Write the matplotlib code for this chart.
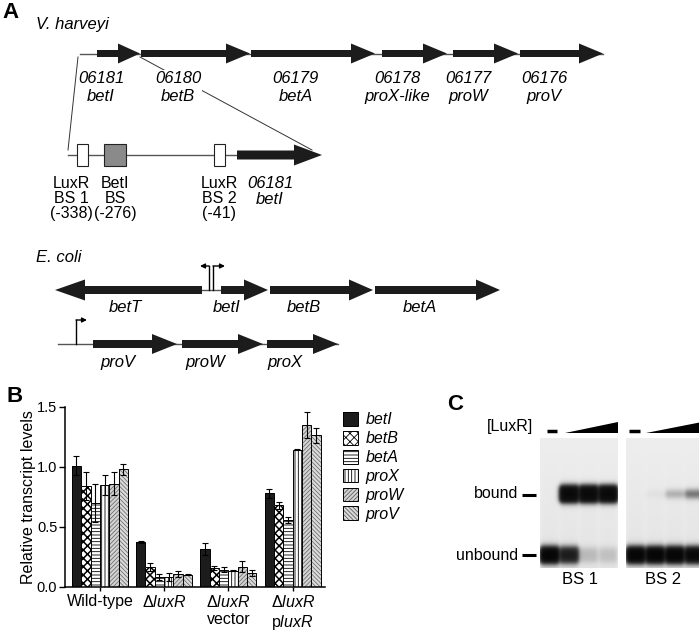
"""
Recreate the LuxR / bet-pro operon figure (panels A, B, C).
"""

import numpy as np
import matplotlib
matplotlib.use("Agg")
import matplotlib.pyplot as plt
from matplotlib.patches import Polygon, Rectangle
from matplotlib.legend_handler import HandlerTuple

plt.rcParams["font.family"] = ["Liberation Sans", "DejaVu Sans"]
plt.rcParams["mathtext.fontset"] = "custom"
plt.rcParams["mathtext.rm"] = "Liberation Sans"
plt.rcParams["mathtext.it"] = "Liberation Sans:italic"
plt.rcParams["hatch.linewidth"] = 0.6

# panel B data
categories = ["Wild-type", "Δ$\\mathit{luxR}$", "Δ$\\mathit{luxR}$\nvector",
              "Δ$\\mathit{luxR}$\np$\\mathit{luxR}$"]
genes = ["betI", "betB", "betA", "proX", "proW", "proV"]
betI = [1.01, 0.374, 0.316, 0.78]
betB = [0.84, 0.168, 0.16, 0.68]
betA = [0.70, 0.084, 0.145, 0.56]
proX = [0.85, 0.084, 0.137, 1.145]
proW = [0.86, 0.11, 0.168, 1.35]
proV = [0.98, 0.103, 0.12, 1.265]
betI_err = [0.08, 0.006, 0.047, 0.035]
betB_err = [0.115, 0.035, 0.016, 0.03]
betA_err = [0.16, 0.022, 0.02, 0.027]
proX_err = [0.08, 0.035, 0.003, 0.005]
proW_err = [0.095, 0.025, 0.047, 0.11]
proV_err = [0.045, 0.007, 0.025, 0.062]

# panel C band intensities per lane (no LuxR, then increasing LuxR)
bs1_bound = [0.0, 1.0, 1.0, 1.0]
bs1_unbound = [1.0, 0.6, 0.06, 0.05]
bs2_bound = [0.0, 0.012, 0.09, 0.22]
bs2_unbound = [1.0, 1.0, 1.0, 0.9]

# panel A gene maps: (start, end, id, name)
vh_genes = [(97, 140, "06181", "betI"), (141, 250, "06180", "betB"),
            (251, 375, "06179", "betA"), (382, 447, "06178", "proX-like"),
            (453, 518, "06177", "proW"), (520, 603, "06176", "proV")]
ec_row1 = [(202, 55, "betT"), (221, 268, "betI"), (270, 373, "betB"), (375, 500, "betA")]
ec_row2 = [(93, 177, "proV"), (182, 263, "proW"), (267, 338, "proX")]
sites = [(77, 88, "white", "LuxR\nBS 1\n(-338)", 71),
         (104, 126, "#8a8a8a", "BetI\nBS\n(-276)", 115),
         (214, 225, "white", "LuxR\nBS 2\n(-41)", 219)]

DARK = "#1c1c1c"
FS = 12

fig = plt.figure(figsize=(6.99, 6.31), dpi=100)
ax = fig.add_axes([0, 0, 1, 1])


def gene_arrow(x0, x1, y, body=7, head_w=20, head_l=23, color=DARK):
    d = 1 if x1 > x0 else -1
    hb = x1 - d * head_l
    pts = [(x0, y - body / 2), (hb, y - body / 2), (hb, y - head_w / 2), (x1, y),
           (hb, y + head_w / 2), (hb, y + body / 2), (x0, y + body / 2)]
    ax.add_patch(Polygon(pts, closed=True, facecolor=color, edgecolor="none", zorder=3))


def label_x(x0, x1, head_l=23):
    if x1 > x0:
        return (x0 + x1 - head_l) / 2 - 6
    return (x0 + x1) / 2 - 3


def bent_arrow(x, y0, y1, dx):
    ax.plot([x, x], [y0, y1], color="black", lw=1, zorder=2)
    ax.annotate("", xy=(x + dx, y1), xytext=(x, y1),
                arrowprops=dict(arrowstyle="-|>", lw=1, color="black",
                                mutation_scale=7, shrinkA=0, shrinkB=0))


# ---- panel A ----
ax.text(2, 12, "A", fontsize=16, fontweight="bold", va="center")
ax.text(36, 25, "V. harveyi", fontsize=FS, style="italic", va="center")

y_top = 53.5
ax.plot([80, 603], [y_top, y_top], color="#555555", lw=1, zorder=1)
for s, e, gid, name in vh_genes:
    gene_arrow(s, e, y_top, head_l=24 if e - s > 60 else 22)
# zoom lines
ax.plot([78, 68], [57, 150], color="#333333", lw=0.7, zorder=1)
ax.plot([140, 312], [57, 150], color="#333333", lw=0.7, zorder=1)
for s, e, gid, name in vh_genes:
    ax.text(label_x(s, e), 71, gid + "\n" + name, fontsize=FS, style="italic",
            ha="center", va="top", linespacing=1.22, zorder=4,
            bbox=dict(facecolor="white", edgecolor="none", pad=1))

# promoter region
y_pr = 155
ax.plot([68, 240], [y_pr, y_pr], color="#555555", lw=1, zorder=1)
gene_arrow(237, 322, y_pr, body=9, head_w=21, head_l=28)
for x0, x1, fc, txt, tx in sites:
    ax.add_patch(Rectangle((x0, 144), x1 - x0, 22, facecolor=fc, edgecolor="#222222",
                           lw=0.8, zorder=3))
    ax.text(tx, 176, txt, fontsize=11.5, ha="center", va="top", linespacing=0.98)
ax.text(270, 176, "06181\nbetI", fontsize=FS, style="italic", ha="center", va="top",
        linespacing=1.08)

# E. coli
ax.text(36, 257, "E. coli", fontsize=FS, style="italic", va="center")
y_e1 = 290
ax.plot([202, 222], [y_e1, y_e1], color="#555555", lw=1, zorder=1)
for s, e, name in ec_row1:
    gene_arrow(s, e, y_e1, body=8, head_w=21, head_l=30 if name == "betT" else 24)
    ax.text(label_x(s, e), 307, name, fontsize=FS, style="italic", ha="center", va="center")
bent_arrow(209, y_e1, 266, -9)
bent_arrow(213, y_e1, 266, 12)

y_e2 = 344
ax.plot([58, 338], [y_e2, y_e2], color="#555555", lw=1, zorder=1)
for s, e, name in ec_row2:
    gene_arrow(s, e, y_e2, body=8, head_w=20, head_l=25)
    ax.text(label_x(s, e), 362, name, fontsize=FS, style="italic", ha="center", va="center")
bent_arrow(76, y_e2, 320, 11)

# ---- panel C ----
ax.text(447, 405, "C", fontsize=16, fontweight="bold", va="center")
ax.text(533, 427, "[LuxR]", fontsize=11.5, ha="right", va="center")
for xa, xb, w0, w1 in [(547, 557, 565, 618), (629, 640, 646, 702)]:
    ax.plot([xa, xb], [431, 431], color="black", lw=2.5, solid_capstyle="butt")
    ax.add_patch(Polygon([(w0, 433), (w1, 433), (w1, 422)], closed=True,
                         facecolor="black", edgecolor="none"))
ax.text(518, 494, "bound", fontsize=11.5, ha="right", va="center")
ax.text(518, 555, "unbound", fontsize=11.5, ha="right", va="center")
for yb in (495, 555):
    ax.plot([522, 536], [yb, yb], color="black", lw=2.2, solid_capstyle="butt")


def gel_image(bound, unbound, width=78, height=130):
    yy, xx = np.mgrid[0:height, 0:width] + 0.5
    lane_w = width / len(bound)
    sig = np.zeros((height, width))
    streak = np.zeros((height, width))
    for i, (b, u) in enumerate(zip(bound, unbound)):
        cx = (i + 0.5) * lane_w
        hx = 1 / (1 + np.exp((np.abs(xx - cx) - lane_w * 0.46) / 1.2))
        hb = 7.5 if b > 0.5 else 3.5
        vb = 1 / (1 + np.exp((np.abs(yy - 56) - hb) / 1.6))
        vu = 1 / (1 + np.exp((np.abs(yy - 117) - 7) / 1.8))
        sig += hx * (b * vb + u * vu)
        streak += hx
    dark = 0.07 + 0.04 * streak * (yy / height) + 0.9 * (1 - np.exp(-3.5 * sig))
    return np.clip(dark, 0, 1)


ax.imshow(gel_image(bs1_bound, bs1_unbound), cmap="gray_r", vmin=0, vmax=1,
          extent=(540, 618, 568, 438), aspect="auto", interpolation="bilinear")
ax.imshow(gel_image(bs2_bound, bs2_unbound), cmap="gray_r", vmin=0, vmax=1,
          extent=(626, 704, 568, 438), aspect="auto", interpolation="bilinear")
ax.text(580, 580, "BS 1", fontsize=FS, ha="center", va="center")
ax.text(663, 580, "BS 2", fontsize=FS, ha="center", va="center")

ax.text(6, 397, "B", fontsize=16, fontweight="bold", va="center")
ax.set_xlim(0, 699)
ax.set_ylim(631, 0)
ax.axis("off")

# ---- panel B ----
W, H = 699, 631
bx = fig.add_axes([65 / W, 1 - 587 / H, (325 - 65) / W, (587 - 407) / H])
bx.patch.set_alpha(0)
series = [betI, betB, betA, proX, proW, proV]
errors = [betI_err, betB_err, betA_err, proX_err, proW_err, proV_err]
faces = [DARK, "white", "white", "white", "#d2d2d2", "#dadada"]
hatches = [None, "xxxx", "-----", "|||||", "////////", "\\\\\\\\\\\\\\\\"]
hatch_cols = ["black", "black", "black", "black", "#606060", "#606060"]
hatch_lws = [0.6, 1.1, 0.6, 0.6, 0.5, 0.5]
x = np.arange(len(categories))
w = 9.4 / 64.5
handles = []
for j, (vals, errs) in enumerate(zip(series, errors)):
    pos = x + (j - 2.5) * w
    with plt.rc_context({"hatch.linewidth": hatch_lws[j]}):
        fill = bx.bar(pos, vals, width=w, color=faces[j], edgecolor=hatch_cols[j], lw=0,
                      hatch=hatches[j], zorder=2)
    edge = bx.bar(pos, vals, width=w, fill=False, edgecolor="black", lw=0.7, zorder=2)
    bx.errorbar(pos, vals, yerr=errs, fmt="none", ecolor="black", elinewidth=0.8,
                capsize=2.2, capthick=0.8, zorder=3)
    handles.append((fill[0], edge[0]))

bx.set_xlim(-0.543, 3.504)
bx.set_ylim(0, 1.5)
bx.set_yticks([0, 0.5, 1.0, 1.5])
bx.set_yticklabels(["0.0", "0.5", "1.0", "1.5"], fontsize=10.5)
bx.set_xticks(x)
bx.set_xticklabels(categories, fontsize=11.5, linespacing=1.2, va="top")
bx.tick_params(axis="x", length=3, width=1, pad=2)
bx.tick_params(axis="y", length=4, width=1, pad=1.5)
for side in ("top", "right"):
    bx.spines[side].set_visible(False)
for side in ("left", "bottom"):
    bx.spines[side].set_linewidth(1.1)
bx.set_ylabel("Relative transcript levels", fontsize=11.5)
bx.yaxis.set_label_coords(-0.11, 0.5)

leg = bx.legend(handles, genes, handler_map={tuple: HandlerTuple(ndivide=1)},
                loc="upper left", bbox_to_anchor=(343 / W, 1 - 412 / H),
                bbox_transform=fig.transFigure, frameon=False, fontsize=11.5,
                handlelength=0.95, handleheight=0.95, handletextpad=0.45,
                labelspacing=0.22, borderpad=0, borderaxespad=0)
for t in leg.get_texts():
    t.set_fontstyle("italic")

fig.savefig("out.png", dpi=100)
